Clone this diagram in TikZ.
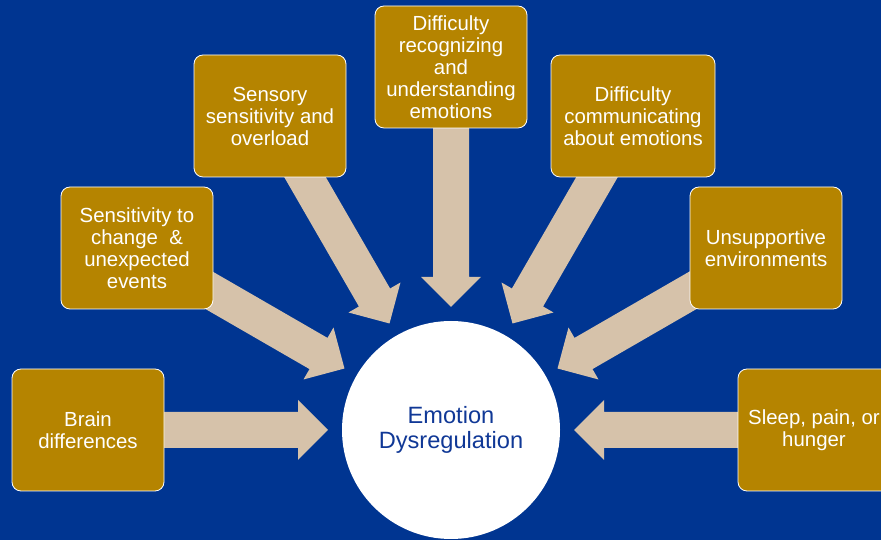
\documentclass[tikz,border=0pt]{standalone}
\usepackage{fontspec}
\setmainfont{Liberation Sans}
\definecolor{bgblue}{RGB}{0,53,145}
\definecolor{causegold}{RGB}{181,132,0}
\definecolor{arrowtan}{RGB}{214,194,170}
\definecolor{emoblue}{RGB}{16,56,150}
\begin{document}
\begin{tikzpicture}[x=1pt,y=1pt,
  cause/.style={draw=white,line width=0.8pt,fill=causegold,rounded corners=9pt,text=white,align=center,
    minimum width=152pt,minimum height=122pt,inner xsep=10pt,font=\fontsize{20.4}{22}\selectfont},
  hub/.style={circle,fill=white,minimum size=218pt,inner sep=0pt,text=emoblue,align=center,
    font=\fontsize{23.6}{25}\selectfont}]
\fill[bgblue] (0,0) rectangle (881,540);
\useasboundingbox (0,0) rectangle (881,540);
\node[hub] (emo) at (451,110) {Emotion\\Dysregulation};
\foreach \a in {0,30,...,180}
  \fill[arrowtan,shift={(emo.center)},rotate=\a] (123,0) -- (153,30) -- (153,18) -- (310,18)
    -- (310,-18) -- (153,-18) -- (153,-30) -- cycle;
\node[cause] (brain) at (88,110) {Brain\\differences};
\node[cause] (change) at (137,292) {Sensitivity to\\change\ \ \&\\unexpected\\events};
\node[cause] (sensory) at (270,424) {Sensory\\sensitivity and\\overload};
\node[cause] (recog) at (451,473) {Difficulty\\recognizing\\and\\understanding\\emotions};
\node[cause,minimum width=164pt] (commun) at (633,424) {Difficulty\\communicating\\about emotions};
\node[cause] (unsupp) at (766,292) {Unsupportive\\environments};
\node[cause] (sleep) at (814,110) {Sleep, pain, or\\hunger};
\end{tikzpicture}
\end{document}
